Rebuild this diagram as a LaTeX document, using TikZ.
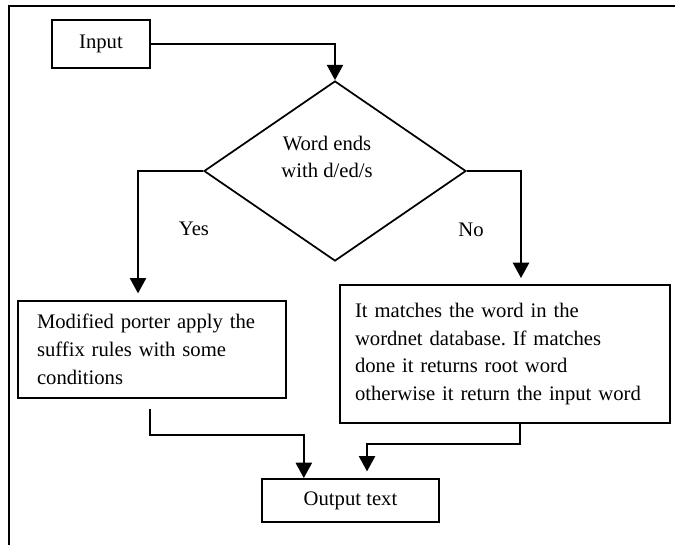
\documentclass[tikz,border=0pt]{standalone}
\usepackage{fontspec}
\setmainfont{Liberation Serif}
\usetikzlibrary{shapes.geometric,arrows.meta,calc}
\frenchspacing

\begin{document}
\begin{tikzpicture}[x=0.75pt,y=-0.75pt,
  txt/.style={font=\fontsize{15.5}{20.8}\selectfont},
  box/.style={txt,draw,line width=1.4pt,inner sep=0pt},
  flow/.style={line width=1.8pt,-{Triangle[width=12pt,length=11.5pt]}}]
  \useasboundingbox (0,0) rectangle (675,544);
  % page frame, only top and left edge are visible
  \draw[line width=1.6pt] (9,560) -- (9,6) -- (690,6);

  \node[box,minimum width=73.5pt,minimum height=36pt] (input) at (101,44) {Input};
  \node[draw,diamond,line width=1.3pt,inner sep=0pt,
        minimum width=196.5pt,minimum height=135pt] (decision) at (335,171) {};
  \node[txt,align=center] (question) at (327,157) {Word ends\\with d/ed/s};

  \node[box,align=left,text width=172.5pt,inner xsep=14.25pt,
        minimum height=72.75pt] (porter) at (152,349.5)
        {Modified porter apply the\\suffix rules with some\\conditions};
  \node[box,align=left,text width=225pt,inner xsep=11.25pt,
        minimum height=103.5pt] (wordnet) at (505,354)
        {It matches the word in the\\wordnet database. If matches\\done it returns root word\\otherwise it return the input word};
  \node[box,minimum width=132.75pt,minimum height=32.25pt] (output) at (350.5,500.5) {Output text};

  \node[txt] (yes) at (194,229) {Yes};
  \node[txt] (no) at (471,230) {No};

  \draw[flow] (input.east) -| (decision.north);
  \draw[flow,shorten >=5pt] (decision.west) -| ([xshift=-10.5pt]porter.north);
  \draw[flow,shorten >=4.5pt] (decision.east) -| ([xshift=12pt]wordnet.north);
  \draw[flow,shorten <=7.5pt] ([xshift=-1.5pt]porter.south) -- ++(0,36) -| ([xshift=-35pt]output.north);
  \draw[flow,shorten >=5pt] ([xshift=11.25pt]wordnet.south) -- ++(0,20) -| ([xshift=12.4pt]output.north);
\end{tikzpicture}
\end{document}
